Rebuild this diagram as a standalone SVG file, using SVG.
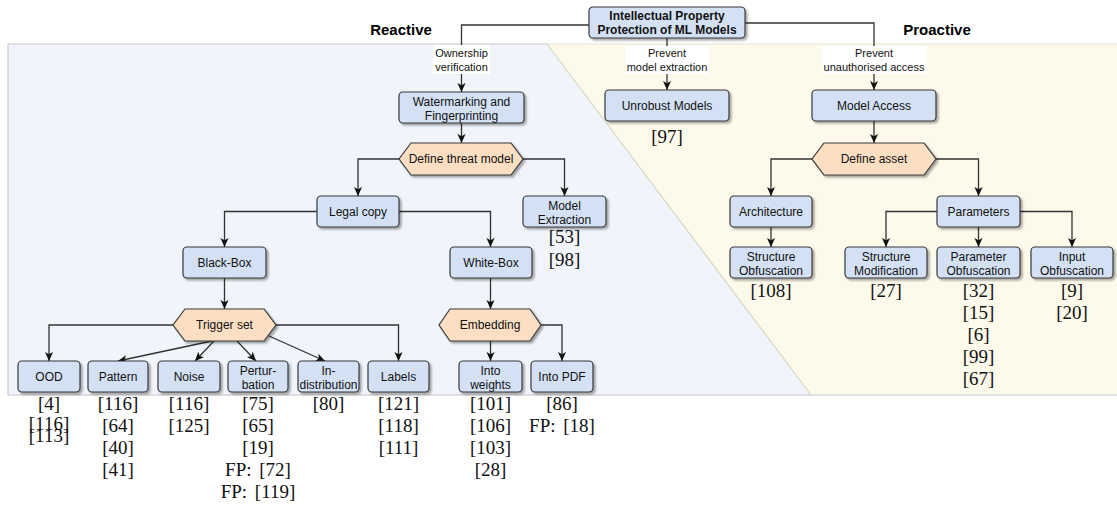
<svg xmlns="http://www.w3.org/2000/svg" width="1117" height="509" viewBox="0 0 1117 509">
  <style>
    .box { fill: #d4e1f5; stroke: #36393d; stroke-width: 1.2; filter: url(#sh); }
    .hex { fill: #fcdfc2; stroke: #36393d; stroke-width: 1.2; filter: url(#sh); }
    .n { font-family: "Liberation Sans", Arial, Helvetica, sans-serif; font-size: 12px; fill: #111; text-anchor: middle; }
    .b { font-weight: bold; }
    .lbl { font-family: "Liberation Sans", Arial, Helvetica, sans-serif; font-size: 11px; fill: #111; text-anchor: middle; }
    .side { font-family: "Liberation Sans", Arial, Helvetica, sans-serif; font-size: 15px; font-weight: bold; fill: #000; text-anchor: middle; }
    .ref { font-family: "Liberation Serif", "Times New Roman", serif; font-size: 19px; fill: #111; text-anchor: middle; word-spacing: 3px; }
    .e { fill: none; stroke: #333; stroke-width: 1.3; marker-end: url(#ar); }
  </style>
  <defs>
    <filter id="sh" x="-10%" y="-10%" width="130%" height="150%">
      <feDropShadow dx="2" dy="2" stdDeviation="1" flood-color="#000" flood-opacity="0.35"/>
    </filter>
    <marker id="ar" viewBox="0 0 10 10" refX="10" refY="5" markerWidth="9" markerHeight="9" markerUnits="userSpaceOnUse" orient="auto">
      <path d="M0,0.5 L10,5 L0,9.5 L2.5,5 Z" fill="#111"/>
    </marker>
  </defs>

  <rect width="1117" height="509" fill="#fff"/>

  <!-- panels -->
  <g id="panels">
    <polygon points="8,44 547,44 811,395 8,395" fill="#f1f4fa"/>
    <polygon points="547,44 1117,44 1117,395 811,395" fill="#fdfaec"/>
    <path d="M8,395 V44 H547" fill="none" stroke="#c9c9c9" stroke-width="1.2"/>
    <path d="M547,44 H1117" fill="none" stroke="#e4e4da" stroke-width="1.2"/>
    <path d="M547,44 L811,395" fill="none" stroke="#d3d9c0" stroke-width="1.2"/>
    <path d="M8,395 H1117" fill="none" stroke="#c4c4c4" stroke-width="1.2"/>
    <text class="side" x="401" y="35">Reactive</text>
    <text class="side" x="937" y="35">Proactive</text>
  </g>

  <!-- connectors -->
  <g id="connectors">
    <path class="e" d="M589,25 H461.5 V92"/>
    <path class="e" d="M667,38 V90"/>
    <path class="e" d="M745,23 H874 V90"/>
    <path class="e" d="M461.5,123 V143"/>
    <path class="e" d="M399,159 H358 V196"/>
    <path class="e" d="M523,159 H564.5 V196"/>
    <path class="e" d="M317,211.5 H224.5 V247"/>
    <path class="e" d="M399,211.5 H490.5 V247"/>
    <path class="e" d="M224.5,278 V309"/>
    <path class="e" d="M490.5,278 V309"/>
    <path class="e" d="M173,325 H49 V361"/>
    <path class="e" d="M212,341 L118,361"/>
    <path class="e" d="M214,341 L195,361"/>
    <path class="e" d="M237,341 L256,361"/>
    <path class="e" d="M269,336 L325,361"/>
    <path class="e" d="M276,325 H398.5 V361"/>
    <path class="e" d="M490.5,341 V361"/>
    <path class="e" d="M541,325 H562 V361"/>
    <path class="e" d="M874,121 V143"/>
    <path class="e" d="M812,159 H771 V196"/>
    <path class="e" d="M936,159 H978.5 V196"/>
    <path class="e" d="M771,227 V247"/>
    <path class="e" d="M937,211.5 H886 V247"/>
    <path class="e" d="M978.5,227 V247"/>
    <path class="e" d="M1020,211.5 H1072 V247"/>
  </g>

  <!-- edge labels -->
  <g id="edge-labels">
    <rect x="433" y="45" width="57" height="29" fill="#fff"/>
    <text class="lbl" x="461.5" y="57">Ownership</text>
    <text class="lbl" x="461.5" y="71">verification</text>
    <rect x="625" y="46" width="84" height="28" fill="#fff"/>
    <text class="lbl" x="667" y="57">Prevent</text>
    <text class="lbl" x="667" y="71">model extraction</text>
    <rect x="822" y="46" width="104" height="28" fill="#fff"/>
    <text class="lbl" x="874" y="57">Prevent</text>
    <text class="lbl" x="874" y="71">unauthorised access</text>
  </g>

  <!-- nodes -->
  <g id="ip-protection">
    <rect class="box" x="589" y="7" width="156" height="31" rx="4"/>
    <text class="n b" x="667" y="20">Intellectual Property</text>
    <text class="n b" x="667" y="34">Protection of ML Models</text>
  </g>
  <g id="watermarking">
    <rect class="box" x="399" y="92" width="125" height="31" rx="4"/>
    <text class="n" x="461.5" y="106">Watermarking and</text>
    <text class="n" x="461.5" y="120">Fingerprinting</text>
  </g>
  <g id="unrobust-models">
    <rect class="box" x="605" y="90" width="124" height="31" rx="4"/>
    <text class="n" x="667" y="110">Unrobust Models</text>
  </g>
  <g id="model-access">
    <rect class="box" x="812" y="90" width="124" height="31" rx="4"/>
    <text class="n" x="874" y="110">Model Access</text>
  </g>
  <g id="define-threat-model">
    <polygon class="hex" points="411,143 511,143 523,159 511,175 411,175 399,159"/>
    <text class="n" x="461" y="163">Define threat model</text>
  </g>
  <g id="define-asset">
    <polygon class="hex" points="824,143 924,143 936,159 924,175 824,175 812,159"/>
    <text class="n" x="874" y="163">Define asset</text>
  </g>
  <g id="legal-copy">
    <rect class="box" x="317" y="196" width="82" height="31" rx="4"/>
    <text class="n" x="358" y="216">Legal copy</text>
  </g>
  <g id="model-extraction">
    <rect class="box" x="523" y="196" width="83" height="31" rx="4"/>
    <text class="n" x="564.5" y="210">Model</text>
    <text class="n" x="564.5" y="224">Extraction</text>
  </g>
  <g id="architecture">
    <rect class="box" x="730" y="196" width="82" height="31" rx="4"/>
    <text class="n" x="771" y="216">Architecture</text>
  </g>
  <g id="parameters">
    <rect class="box" x="937" y="196" width="83" height="31" rx="4"/>
    <text class="n" x="978.5" y="216">Parameters</text>
  </g>
  <g id="black-box">
    <rect class="box" x="183" y="247" width="83" height="31" rx="4"/>
    <text class="n" x="224.5" y="267">Black-Box</text>
  </g>
  <g id="white-box">
    <rect class="box" x="450" y="247" width="82" height="31" rx="4"/>
    <text class="n" x="491" y="267">White-Box</text>
  </g>
  <g id="structure-obfuscation">
    <rect class="box" x="730" y="247" width="82" height="31" rx="4"/>
    <text class="n" x="771" y="261">Structure</text>
    <text class="n" x="771" y="275">Obfuscation</text>
  </g>
  <g id="structure-modification">
    <rect class="box" x="845" y="247" width="82" height="31" rx="4"/>
    <text class="n" x="886" y="261">Structure</text>
    <text class="n" x="886" y="275">Modification</text>
  </g>
  <g id="parameter-obfuscation">
    <rect class="box" x="937" y="247" width="83" height="31" rx="4"/>
    <text class="n" x="978.5" y="261">Parameter</text>
    <text class="n" x="978.5" y="275">Obfuscation</text>
  </g>
  <g id="input-obfuscation">
    <rect class="box" x="1031" y="247" width="82" height="31" rx="4"/>
    <text class="n" x="1072" y="261">Input</text>
    <text class="n" x="1072" y="275">Obfuscation</text>
  </g>
  <g id="trigger-set">
    <polygon class="hex" points="185,309 264,309 276,325 264,341 185,341 173,325"/>
    <text class="n" x="224.5" y="329">Trigger set</text>
  </g>
  <g id="embedding">
    <polygon class="hex" points="450,309 530,309 541,325 530,341 450,341 439,325"/>
    <text class="n" x="490" y="329">Embedding</text>
  </g>
  <g id="ood">
    <rect class="box" x="18" y="361" width="62" height="31" rx="4"/>
    <text class="n" x="49" y="381">OOD</text>
  </g>
  <g id="pattern">
    <rect class="box" x="88" y="361" width="60" height="31" rx="4"/>
    <text class="n" x="118" y="381">Pattern</text>
  </g>
  <g id="noise">
    <rect class="box" x="158" y="361" width="62" height="31" rx="4"/>
    <text class="n" x="189" y="381">Noise</text>
  </g>
  <g id="perturbation">
    <rect class="box" x="228" y="361" width="60" height="31" rx="4"/>
    <text class="n" x="258" y="375">Pertur-</text>
    <text class="n" x="258" y="389">bation</text>
  </g>
  <g id="in-distribution">
    <rect class="box" x="298" y="361" width="61" height="31" rx="4"/>
    <text class="n" x="328.5" y="375">In-</text>
    <text class="n" x="328.5" y="389">distribution</text>
  </g>
  <g id="labels">
    <rect class="box" x="368" y="361" width="61" height="31" rx="4"/>
    <text class="n" x="398.5" y="381">Labels</text>
  </g>
  <g id="into-weights">
    <rect class="box" x="459" y="361" width="63" height="31" rx="4"/>
    <text class="n" x="490.5" y="375">Into</text>
    <text class="n" x="490.5" y="389">weights</text>
  </g>
  <g id="into-pdf">
    <rect class="box" x="531" y="361" width="62" height="31" rx="4"/>
    <text class="n" x="562" y="381">Into PDF</text>
  </g>

  <!-- citations -->
  <g id="citations">
    <text class="ref" x="667" y="143">[97]</text>
    <text class="ref" x="564.5" y="243">[53]</text>
    <text class="ref" x="564.5" y="266">[98]</text>

    <text class="ref" x="771" y="297">[108]</text>
    <text class="ref" x="886" y="297">[27]</text>
    <text class="ref" x="978.5" y="297">[32]</text>
    <text class="ref" x="978.5" y="319">[15]</text>
    <text class="ref" x="978.5" y="341">[6]</text>
    <text class="ref" x="978.5" y="363">[99]</text>
    <text class="ref" x="978.5" y="385">[67]</text>
    <text class="ref" x="1072" y="297">[9]</text>
    <text class="ref" x="1072" y="319">[20]</text>

    <text class="ref" x="49" y="410">[4]</text>
    <text class="ref" x="49" y="430">[116]</text>
    <text class="ref" x="49" y="442">[113]</text>

    <text class="ref" x="118" y="410">[116]</text>
    <text class="ref" x="118" y="432">[64]</text>
    <text class="ref" x="118" y="454">[40]</text>
    <text class="ref" x="118" y="476">[41]</text>

    <text class="ref" x="189" y="410">[116]</text>
    <text class="ref" x="189" y="432">[125]</text>

    <text class="ref" x="258" y="410">[75]</text>
    <text class="ref" x="258" y="432">[65]</text>
    <text class="ref" x="258" y="454">[19]</text>
    <text class="ref" x="258" y="476">FP: [72]</text>
    <text class="ref" x="258" y="498">FP: [119]</text>

    <text class="ref" x="328.5" y="410">[80]</text>

    <text class="ref" x="398.5" y="410">[121]</text>
    <text class="ref" x="398.5" y="432">[118]</text>
    <text class="ref" x="398.5" y="454">[111]</text>

    <text class="ref" x="490.5" y="410">[101]</text>
    <text class="ref" x="490.5" y="432">[106]</text>
    <text class="ref" x="490.5" y="454">[103]</text>
    <text class="ref" x="490.5" y="476">[28]</text>

    <text class="ref" x="562" y="410">[86]</text>
    <text class="ref" x="562" y="432">FP: [18]</text>
  </g>
</svg>
